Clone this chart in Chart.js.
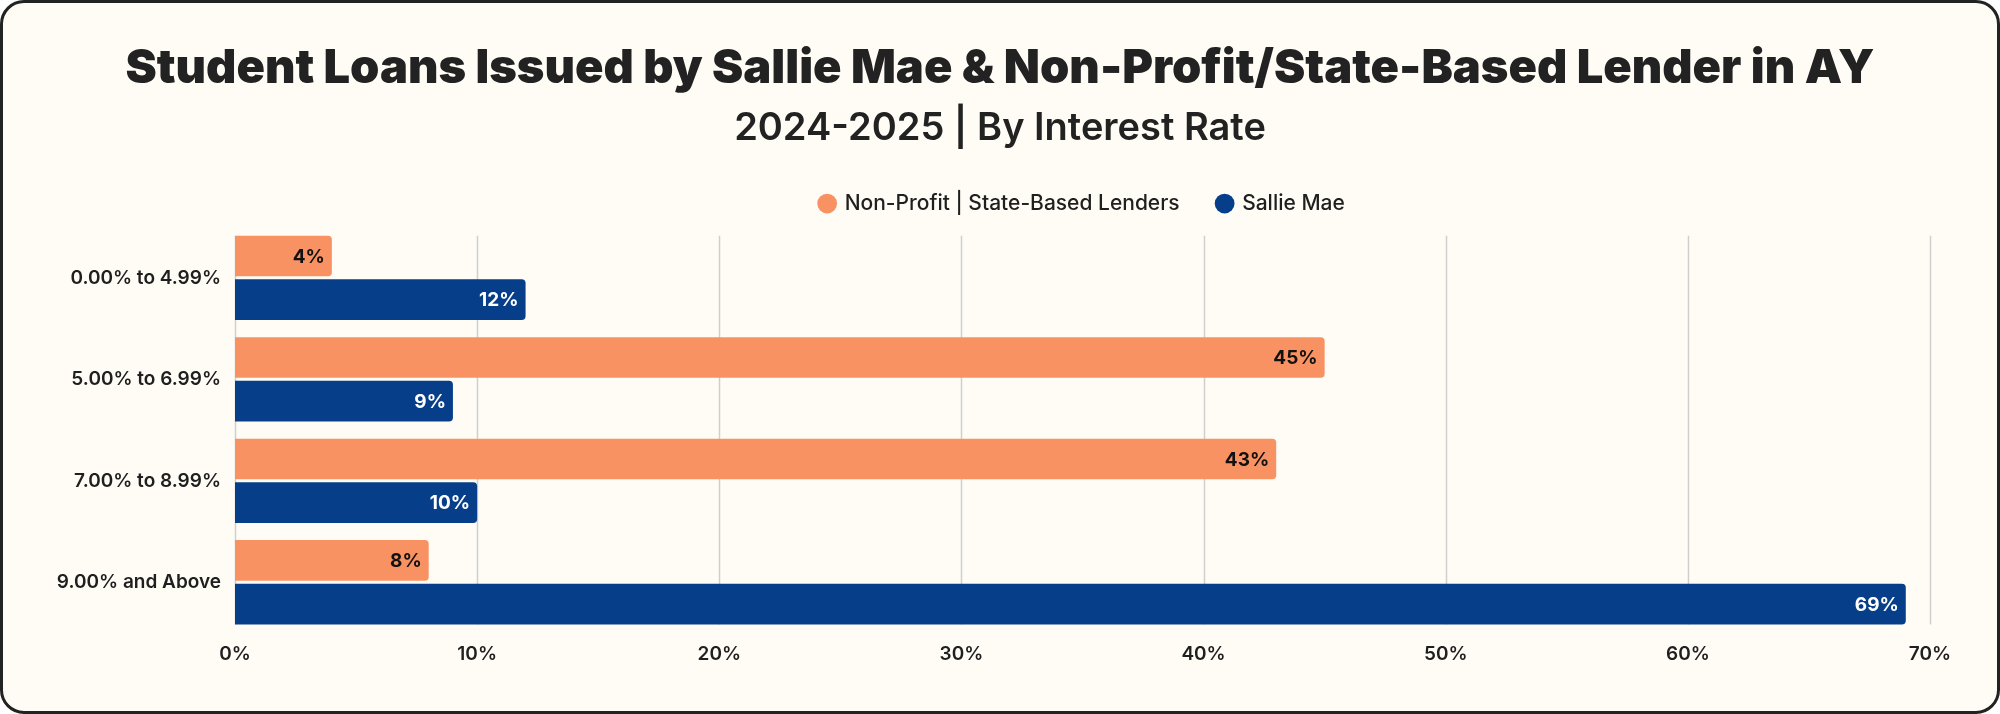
<!DOCTYPE html>
<html>
<head>
<meta charset="utf-8">
<script src="https://cdn.jsdelivr.net/npm/chart.js@4.4.1/dist/chart.umd.min.js"></script>
<style>
  html, body { margin: 0; padding: 0; background: #ffffff; }
  #card {
    position: relative; width: 2000px; height: 714px; box-sizing: border-box;
    border: 3px solid #222222; border-radius: 24px; background: #FFFCF6; overflow: hidden;
  }
  #chart { position: absolute; left: -3px; top: -3px; }
</style>
</head>
<body>
<div id="card"><canvas id="chart" width="2000" height="714"></canvas></div>
<script>
const categories = ["0.00% to 4.99%", "5.00% to 6.99%", "7.00% to 8.99%", "9.00% and Above"];
const nonProfitValues = [4, 45, 43, 8];
const sallieMaeValues = [12, 9, 10, 69];
const seriesNames = ["Non-Profit | State-Based Lenders", "Sallie Mae"];
const xTickMax = 70;
const xTickStep = 10;

const FONT = "Inter, 'Open Sans', sans-serif";
const TEXT = "#1F1F1F";

const gridPlugin = {
  id: 'barSpanGrid',
  beforeDatasetsDraw(chart) {
    const x = chart.scales.x;
    const first = chart.getDatasetMeta(0).data[0];
    const lastMeta = chart.getDatasetMeta(chart.data.datasets.length - 1);
    const last = lastMeta.data[lastMeta.data.length - 1];
    const top = first.y - first.height / 2;
    const bottom = last.y + last.height / 2;
    const ctx = chart.ctx;
    ctx.save();
    ctx.strokeStyle = '#CFCFCF';
    ctx.lineWidth = 1.5;
    x.ticks.forEach(t => {
      const px = Math.round(x.getPixelForValue(t.value)) + 0.5;
      ctx.beginPath();
      ctx.moveTo(px, top);
      ctx.lineTo(px, bottom);
      ctx.stroke();
    });
    ctx.restore();
  }
};

const labelPlugin = {
  id: 'barValueLabels',
  afterDatasetsDraw(chart) {
    const ctx = chart.ctx;
    ctx.save();
    ctx.font = "700 19px " + FONT;
    ctx.textAlign = 'right';
    ctx.textBaseline = 'middle';
    chart.data.datasets.forEach((ds, di) => {
      const meta = chart.getDatasetMeta(di);
      ctx.fillStyle = di === 0 ? '#111111' : '#FFFFFF';
      meta.data.forEach((bar, i) => {
        ctx.fillText(ds.data[i] + '%', bar.x - 7, bar.y + 1);
      });
    });
    ctx.restore();
  }
};

const legendSpacing = {
  id: 'legendSpacing',
  beforeInit(chart) {
    const orig = chart.legend.fit;
    chart.legend.fit = function () {
      orig.call(this);
      this.height += 3;
    };
  }
};

new Chart(document.getElementById('chart'), {
  type: 'bar',
  data: {
    labels: categories,
    datasets: [
      {
        label: seriesNames[0], data: nonProfitValues,
        backgroundColor: '#F99262', borderColor: '#F99262',
        borderWidth: 0, borderRadius: 4, borderSkipped: 'start',
        categoryPercentage: 0.86, barPercentage: 0.932
      },
      {
        label: seriesNames[1], data: sallieMaeValues,
        backgroundColor: '#073E89', borderColor: '#073E89',
        borderWidth: 0, borderRadius: 4, borderSkipped: 'start',
        categoryPercentage: 0.86, barPercentage: 0.932
      }
    ]
  },
  options: {
    indexAxis: 'y',
    responsive: false,
    animation: false,
    devicePixelRatio: 1,
    layout: { padding: { left: 0, right: 0, top: 0, bottom: 51 } },
    plugins: {
      title: {
        display: true,
        text: 'Student Loans Issued by Sallie Mae & Non-Profit/State-Based Lender in AY',
        color: '#222222',
        font: { family: FONT, size: 47, weight: '900', lineHeight: 1.2 },
        padding: { top: 40.5, bottom: 0 }
      },
      subtitle: {
        display: true,
        text: '2024-2025 | By Interest Rate',
        color: '#222222',
        font: { family: FONT, size: 38, weight: '600', lineHeight: 1.2 },
        padding: { top: 8.4, bottom: 4.2 }
      },
      legend: {
        display: true,
        position: 'top',
        align: 'center',
        fullSize: false,
        labels: {
          usePointStyle: true,
          pointStyle: 'circle',
          boxWidth: 14,
          boxHeight: 14,
          padding: 38,
          color: TEXT,
          font: { family: FONT, size: 21, weight: '500' }
        }
      },
      tooltip: { enabled: false }
    },
    scales: {
      x: {
        type: 'linear',
        min: 0,
        max: xTickMax,
        grid: { display: false },
        border: { display: false },
        ticks: {
          stepSize: xTickStep,
          padding: 2,
          color: TEXT,
          font: { family: FONT, size: 19, weight: '600' },
          callback: v => v + '%'
        },
        afterFit(scale) { scale.height = 30; }
      },
      y: {
        type: 'category',
        grid: { display: false },
        border: { display: false },
        ticks: {
          padding: 6,
          color: TEXT,
          font: { family: FONT, size: 19, weight: '600' }
        },
        afterFit(scale) { scale.width = 235; }
      },
      yRight: {
        type: 'category',
        position: 'right',
        display: true,
        grid: { display: false },
        border: { display: false },
        ticks: { display: false },
        afterFit(scale) { scale.width = 70; }
      }
    }
  },
  plugins: [gridPlugin, labelPlugin, legendSpacing]
});
</script>
</body>
</html>
